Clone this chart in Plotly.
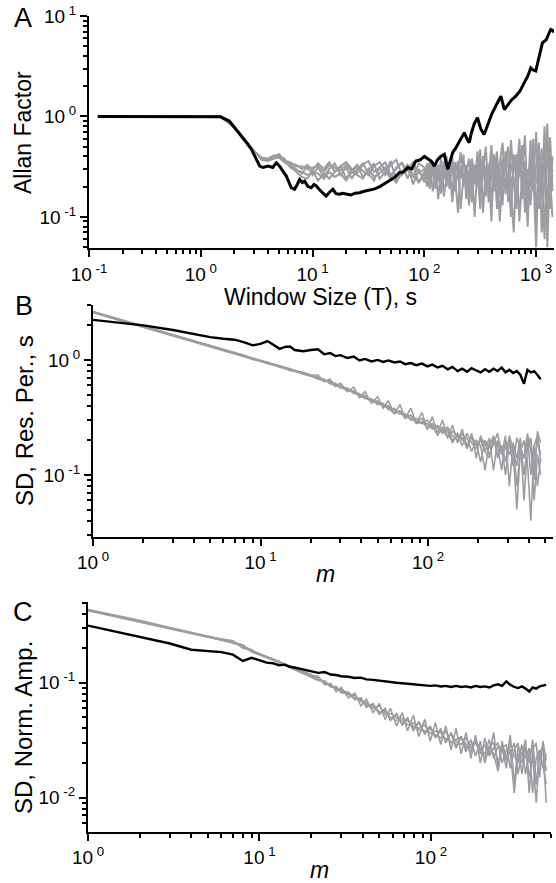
import plotly.graph_objects as go

# ---------------- Panel A data (Allan factor) ----------------
a_black_x = [0.12, 0.5, 1.0, 1.5, 1.8, 2.2, 2.5, 2.84, 3.1, 3.37, 3.6, 4.0, 4.4, 4.74, 5.07, 5.4, 5.82, 6.45, 6.9, 7.3,
             7.66, 8.1, 8.49, 9.1, 9.73, 10.3, 10.8, 11.6, 12.4, 13.2, 14.1, 15.2, 16.2, 17.4, 18.6, 20, 22, 24, 26.3, 29,
             32.3, 36, 40, 45.5, 50, 55, 59.8, 65, 71, 77, 84, 92, 100, 107, 115, 123, 131, 140, 151, 162,
             170, 179, 190, 203, 215, 228, 240, 252, 265, 280, 299, 320, 343, 370, 400, 440, 484, 520, 555, 600,
             658, 720, 781, 840, 896, 940, 993, 1060, 1138, 1230, 1300, 1350, 1400, 1445]
a_black_y = [1.0, 1.0, 1.0, 0.99, 0.9, 0.69, 0.57, 0.47, 0.39, 0.32, 0.31, 0.32, 0.31, 0.346, 0.32, 0.29, 0.255, 0.195, 0.188, 0.21,
             0.236, 0.22, 0.227, 0.2, 0.195, 0.21, 0.203, 0.185, 0.174, 0.161, 0.175, 0.188, 0.17, 0.168, 0.172, 0.17, 0.165, 0.172, 0.174, 0.18,
             0.185, 0.19, 0.2, 0.219, 0.23, 0.25, 0.275, 0.28, 0.31, 0.3, 0.359, 0.37, 0.40, 0.38, 0.36, 0.32, 0.37, 0.40, 0.419, 0.297,
             0.36, 0.435, 0.48, 0.55, 0.6, 0.69, 0.6, 0.547, 0.7, 0.85, 0.97, 0.75, 0.66, 0.82, 1.05, 1.3, 1.59, 1.17, 1.3, 1.45,
             1.59, 1.8, 2.16, 2.5, 3.05, 2.9, 2.83, 3.8, 5.41, 5.8, 6.6, 7.34, 7.2, 6.9]

a_gray_x = [0.12, 1.5, 2.0, 2.5, 3.0, 3.5, 4.0, 4.5, 5.0, 5.6, 6.3, 7.1, 8.0, 9.0, 10, 11.2, 12.6, 14.1, 15.8, 17.8,
            20, 22.4, 25.1, 28.2, 31.6, 35.5, 39.8, 44.7, 50.1, 56.2, 63.1, 70.8, 79.4, 89.1, 100, 106, 112, 119, 126, 133,
            141, 150, 158, 168, 178, 188, 200, 211, 224, 237, 251, 266, 282, 299, 316, 335, 355, 376, 398, 422,
            447, 473, 501, 531, 562, 596, 631, 668, 708, 750, 794, 841, 891, 944, 1000, 1059, 1122, 1189, 1259, 1334, 1400]
a_gray_1 = [1.0, 1.0, 0.78, 0.58, 0.45, 0.38, 0.37, 0.39, 0.41,
            0.37, 0.33, 0.30, 0.27, 0.32, 0.26, 0.31, 0.25, 0.30, 0.34, 0.26, 0.31, 0.24, 0.30, 0.34, 0.27, 0.23, 0.31, 0.35, 0.26, 0.30, 0.35, 0.24, 0.32, 0.22,
            0.26, 0.34, 0.22, 0.30, 0.19, 0.33, 0.25, 0.36, 0.20, 0.29, 0.40, 0.18, 0.31, 0.24, 0.42, 0.15, 0.28, 0.37, 0.21, 0.45, 0.17, 0.30, 0.50, 0.14,
            0.26, 0.38, 0.12, 0.33, 0.55, 0.19, 0.28, 0.10, 0.42, 0.24, 0.60, 0.15, 0.33, 0.08, 0.48, 0.22, 0.70, 0.12, 0.35, 0.06, 0.50, 0.20, 0.30]
a_gray_2 = [1.0, 1.0, 0.78, 0.58, 0.45, 0.37, 0.36, 0.38, 0.39,
            0.35, 0.32, 0.28, 0.25, 0.24, 0.29, 0.23, 0.27, 0.24, 0.28, 0.32, 0.24, 0.29, 0.33, 0.25, 0.29, 0.34, 0.24, 0.28, 0.36, 0.23, 0.27, 0.33, 0.21, 0.30,
            0.22, 0.30, 0.35, 0.18, 0.27, 0.23, 0.38, 0.16, 0.26, 0.33, 0.14, 0.28, 0.36, 0.12, 0.25, 0.33, 0.19, 0.28, 0.10, 0.35, 0.22, 0.40, 0.16, 0.30,
            0.09, 0.42, 0.20, 0.26, 0.13, 0.45, 0.32, 0.18, 0.07, 0.38, 0.25, 0.52, 0.11, 0.30, 0.20, 0.60, 0.09, 0.40, 0.15, 0.80, 0.05, 0.36, 0.25]
a_gray_3 = [1.0, 1.0, 0.78, 0.58, 0.45, 0.38, 0.38, 0.40, 0.42,
            0.36, 0.34, 0.33, 0.30, 0.33, 0.29, 0.34, 0.30, 0.35, 0.28, 0.32, 0.35, 0.30, 0.27, 0.33, 0.36, 0.28, 0.31, 0.26, 0.33, 0.37, 0.26, 0.30, 0.35, 0.27,
            0.30, 0.24, 0.28, 0.36, 0.21, 0.30, 0.17, 0.27, 0.40, 0.22, 0.18, 0.35, 0.27, 0.44, 0.20, 0.30, 0.13, 0.38, 0.26, 0.20, 0.47, 0.11, 0.32, 0.24,
            0.52, 0.18, 0.35, 0.09, 0.28, 0.40, 0.14, 0.58, 0.22, 0.12, 0.35, 0.27, 0.65, 0.10, 0.40, 0.18, 0.30, 0.55, 0.07, 0.26, 0.85, 0.12, 0.40]
a_gray_4 = [1.0, 1.0, 0.78, 0.58, 0.45, 0.39, 0.38, 0.41, 0.40,
            0.38, 0.31, 0.29, 0.28, 0.26, 0.28, 0.27, 0.24, 0.28, 0.25, 0.27, 0.23, 0.28, 0.26, 0.24, 0.30, 0.25, 0.27, 0.31, 0.25, 0.22, 0.28, 0.33, 0.26, 0.22,
            0.28, 0.20, 0.32, 0.26, 0.34, 0.15, 0.29, 0.24, 0.31, 0.19, 0.36, 0.26, 0.11, 0.32, 0.23, 0.28, 0.38, 0.17, 0.33, 0.27, 0.12, 0.40, 0.25, 0.19,
            0.36, 0.28, 0.45, 0.16, 0.23, 0.35, 0.50, 0.20, 0.30, 0.42, 0.09, 0.26, 0.36, 0.16, 0.58, 0.28, 0.05, 0.45, 0.22, 0.34, 0.12, 0.62, 0.18]
a_gray_5 = [1.0, 1.0, 0.78, 0.58, 0.45, 0.38, 0.37, 0.38, 0.42,
            0.36, 0.35, 0.32, 0.32, 0.30, 0.31, 0.32, 0.28, 0.33, 0.31, 0.29, 0.33, 0.28, 0.32, 0.29, 0.26, 0.32, 0.35, 0.29, 0.24, 0.31, 0.34, 0.29, 0.25, 0.34,
            0.31, 0.27, 0.19, 0.33, 0.28, 0.25, 0.20, 0.34, 0.29, 0.24, 0.31, 0.21, 0.26, 0.30, 0.35, 0.22, 0.26, 0.14, 0.31, 0.23, 0.36, 0.28, 0.21, 0.34,
            0.16, 0.25, 0.31, 0.22, 0.38, 0.17, 0.27, 0.34, 0.24, 0.16, 0.45, 0.33, 0.21, 0.28, 0.13, 0.38, 0.24, 0.19, 0.48, 0.30, 0.16, 0.24, 0.10]

# ---------------- Panels B and C share the m grid ----------------
m_vals = [1, 2, 3, 4, 5, 6, 7, 8, 9, 10, 11, 12, 13, 14, 15, 16, 18, 20,
          22, 24, 26, 28, 30, 33, 36, 39, 42, 46, 50, 54, 58, 63, 68, 73, 79, 85, 92, 99,
          106, 114, 122, 131, 140, 150, 160, 171, 182, 194, 206, 219, 232, 246,
          260, 275, 290, 306, 322, 339, 356, 374, 392, 411, 430, 450, 470]

# Panel B: SD of residual periods
b_black = [2.23, 2.0, 1.82, 1.68, 1.58, 1.53, 1.50, 1.42, 1.34, 1.38, 1.46, 1.35, 1.25, 1.30, 1.31, 1.22, 1.19, 1.22,
           1.24, 1.12, 1.15, 1.08, 1.10, 1.04, 1.07, 0.99, 1.02, 0.97, 1.00, 0.96, 0.99, 0.95, 0.97, 0.92, 0.94, 0.90, 0.93, 0.88,
           0.91, 0.86, 0.89, 0.83, 0.87, 0.80, 0.84, 0.79, 0.85, 0.81, 0.78, 0.83, 0.79, 0.84,
           0.80, 0.86, 0.78, 0.82, 0.77, 0.80, 0.74, 0.62, 0.82, 0.78, 0.80, 0.74, 0.68]
b_gray_1 = [2.62, 1.95, 1.64, 1.45, 1.32, 1.23, 1.15, 1.09, 1.03, 0.99, 0.95, 0.92, 0.88, 0.86, 0.83, 0.81, 0.77, 0.74,
            0.74, 0.65, 0.68, 0.59, 0.63, 0.53, 0.58, 0.47, 0.53, 0.42, 0.48, 0.38, 0.44, 0.34, 0.41, 0.31, 0.38, 0.28, 0.35, 0.25,
            0.32, 0.23, 0.30, 0.21, 0.27, 0.19, 0.25, 0.17, 0.23, 0.14, 0.22, 0.16, 0.21, 0.11,
            0.20, 0.15, 0.22, 0.08, 0.19, 0.14, 0.21, 0.06, 0.18, 0.20, 0.11, 0.21, 0.15]
b_gray_2 = [2.58, 1.93, 1.62, 1.44, 1.31, 1.21, 1.14, 1.07, 1.02, 0.97, 0.94, 0.90, 0.87, 0.84, 0.82, 0.79, 0.76, 0.72,
            0.69, 0.68, 0.62, 0.63, 0.57, 0.57, 0.52, 0.51, 0.46, 0.46, 0.42, 0.42, 0.37, 0.38, 0.34, 0.34, 0.30, 0.31, 0.28, 0.30,
            0.26, 0.27, 0.24, 0.26, 0.22, 0.20, 0.23, 0.18, 0.21, 0.19, 0.13, 0.20, 0.17, 0.22,
            0.14, 0.18, 0.10, 0.19, 0.16, 0.05, 0.17, 0.14, 0.21, 0.10, 0.18, 0.08, 0.14]
b_gray_3 = [2.64, 1.96, 1.65, 1.46, 1.33, 1.24, 1.16, 1.10, 1.04, 0.98, 0.96, 0.91, 0.89, 0.85, 0.84, 0.80, 0.78, 0.73,
            0.70, 0.65, 0.66, 0.60, 0.58, 0.56, 0.51, 0.50, 0.48, 0.43, 0.44, 0.39, 0.40, 0.35, 0.36, 0.31, 0.33, 0.28, 0.29, 0.26,
            0.27, 0.22, 0.26, 0.24, 0.19, 0.23, 0.20, 0.21, 0.16, 0.20, 0.18, 0.11, 0.19, 0.21,
            0.15, 0.18, 0.13, 0.22, 0.17, 0.12, 0.19, 0.10, 0.18, 0.21, 0.06, 0.15, 0.10]
b_gray_4 = [2.60, 1.94, 1.63, 1.44, 1.31, 1.22, 1.13, 1.08, 1.01, 0.98, 0.93, 0.91, 0.87, 0.85, 0.81, 0.80, 0.75, 0.73,
            0.71, 0.67, 0.63, 0.62, 0.58, 0.54, 0.54, 0.48, 0.47, 0.45, 0.41, 0.41, 0.38, 0.34, 0.36, 0.32, 0.31, 0.29, 0.31, 0.25,
            0.28, 0.26, 0.23, 0.25, 0.20, 0.22, 0.21, 0.17, 0.22, 0.18, 0.20, 0.16, 0.14, 0.21,
            0.18, 0.11, 0.20, 0.15, 0.19, 0.08, 0.16, 0.20, 0.13, 0.04, 0.18, 0.22, 0.13]
b_gray_5 = [2.61, 1.94, 1.64, 1.45, 1.32, 1.23, 1.15, 1.08, 1.03, 0.99, 0.95, 0.91, 0.88, 0.86, 0.82, 0.81, 0.77, 0.74,
            0.68, 0.67, 0.64, 0.59, 0.61, 0.55, 0.53, 0.50, 0.49, 0.44, 0.43, 0.40, 0.39, 0.37, 0.34, 0.33, 0.33, 0.29, 0.28, 0.28,
            0.25, 0.26, 0.25, 0.21, 0.24, 0.22, 0.18, 0.23, 0.19, 0.17, 0.21, 0.19, 0.15, 0.19,
            0.23, 0.16, 0.17, 0.20, 0.12, 0.21, 0.17, 0.14, 0.23, 0.16, 0.09, 0.24, 0.19]

# Panel C: SD of normalized amplitudes
c_black = [0.315, 0.25, 0.22, 0.194, 0.19, 0.185, 0.176, 0.155, 0.165, 0.158, 0.150, 0.148, 0.142, 0.144, 0.138, 0.136, 0.130, 0.126,
           0.122, 0.124, 0.118, 0.117, 0.114, 0.113, 0.110, 0.111, 0.107, 0.106, 0.104, 0.103, 0.101, 0.100, 0.099, 0.098, 0.097, 0.096, 0.095, 0.094,
           0.095, 0.093, 0.094, 0.092, 0.094, 0.092, 0.093, 0.091, 0.094, 0.092, 0.093, 0.091, 0.095, 0.097,
           0.094, 0.103, 0.096, 0.092, 0.090, 0.093, 0.089, 0.084, 0.091, 0.089, 0.093, 0.095, 0.096]
c_gray_1 = [0.43, 0.345, 0.30, 0.272, 0.253, 0.238, 0.225, 0.207, 0.19, 0.178, 0.168, 0.160, 0.152, 0.145, 0.139, 0.133, 0.124, 0.115,
            0.114, 0.096, 0.099, 0.084, 0.091, 0.074, 0.081, 0.063, 0.072, 0.055, 0.066, 0.048, 0.060, 0.042, 0.055, 0.038, 0.052, 0.034, 0.048, 0.031,
            0.045, 0.029, 0.042, 0.026, 0.040, 0.024, 0.037, 0.022, 0.035, 0.020, 0.033, 0.024, 0.037, 0.018,
            0.031, 0.021, 0.035, 0.013, 0.028, 0.023, 0.032, 0.011, 0.026, 0.030, 0.015, 0.031, 0.021]
c_gray_2 = [0.425, 0.34, 0.298, 0.27, 0.25, 0.235, 0.22, 0.21, 0.188, 0.175, 0.165, 0.158, 0.150, 0.142, 0.136, 0.130, 0.120, 0.112,
            0.105, 0.104, 0.092, 0.093, 0.082, 0.083, 0.072, 0.073, 0.062, 0.065, 0.054, 0.058, 0.048, 0.053, 0.043, 0.049, 0.040, 0.045, 0.036, 0.042,
            0.033, 0.040, 0.030, 0.037, 0.028, 0.034, 0.025, 0.032, 0.023, 0.031, 0.020, 0.028, 0.024, 0.017,
            0.029, 0.021, 0.026, 0.011, 0.024, 0.020, 0.028, 0.015, 0.023, 0.009, 0.025, 0.019, 0.013]
c_gray_3 = [0.435, 0.35, 0.303, 0.275, 0.255, 0.24, 0.232, 0.20, 0.192, 0.18, 0.17, 0.162, 0.155, 0.147, 0.141, 0.135, 0.127, 0.118,
            0.110, 0.100, 0.094, 0.091, 0.084, 0.079, 0.077, 0.069, 0.067, 0.060, 0.063, 0.053, 0.054, 0.050, 0.046, 0.047, 0.042, 0.040, 0.043, 0.036,
            0.038, 0.037, 0.032, 0.036, 0.031, 0.029, 0.033, 0.027, 0.030, 0.026, 0.024, 0.032, 0.022, 0.028,
            0.027, 0.018, 0.031, 0.023, 0.020, 0.029, 0.016, 0.025, 0.027, 0.013, 0.024, 0.028, 0.017]
c_gray_4 = [0.43, 0.344, 0.299, 0.271, 0.252, 0.236, 0.225, 0.215, 0.185, 0.176, 0.166, 0.161, 0.149, 0.146, 0.137, 0.134, 0.122, 0.117,
            0.107, 0.102, 0.096, 0.088, 0.087, 0.081, 0.073, 0.071, 0.064, 0.063, 0.056, 0.056, 0.050, 0.047, 0.049, 0.043, 0.045, 0.039, 0.038, 0.040,
            0.035, 0.033, 0.038, 0.030, 0.032, 0.034, 0.027, 0.029, 0.031, 0.024, 0.029, 0.023, 0.027, 0.030,
            0.020, 0.026, 0.024, 0.030, 0.016, 0.025, 0.022, 0.027, 0.011, 0.022, 0.026, 0.018, 0.024]
c_gray_5 = [0.432, 0.346, 0.301, 0.273, 0.254, 0.239, 0.23, 0.208, 0.194, 0.177, 0.169, 0.157, 0.154, 0.143, 0.140, 0.131, 0.126, 0.113,
            0.109, 0.101, 0.093, 0.092, 0.082, 0.081, 0.071, 0.074, 0.061, 0.066, 0.053, 0.060, 0.047, 0.054, 0.043, 0.050, 0.038, 0.046, 0.036, 0.041,
            0.034, 0.038, 0.031, 0.036, 0.027, 0.034, 0.029, 0.025, 0.031, 0.027, 0.022, 0.028, 0.030, 0.020,
            0.027, 0.029, 0.018, 0.026, 0.030, 0.016, 0.027, 0.020, 0.032, 0.013, 0.024, 0.028, 0.009]

# Tick labels
a_x_ticks = [0.1, 1, 10, 100, 1000]
a_x_text = ["10<sup> -1</sup>", "10<sup> 0</sup>", "10<sup> 1</sup>", "10<sup> 2</sup>", "10<sup> 3</sup>"]
a_y_ticks = [0.1, 1, 10]
a_y_text = ["10<sup> -1</sup>", "10<sup> 0</sup>", "10<sup> 1</sup>"]
m_ticks = [1, 10, 100]
m_text = ["10<sup> 0</sup>", "10<sup> 1</sup>", "10<sup> 2</sup>"]
b_y_ticks = [0.1, 1]
b_y_text = ["10<sup> -1</sup>", "10<sup> 0</sup>"]
c_y_ticks = [0.01, 0.1]
c_y_text = ["10<sup> -2</sup>", "10<sup> -1</sup>"]

# ---------------- figure ----------------
W, H = 556, 883
GRAY = "#9c9da1"
FONT = "Arial, 'Liberation Sans', Helvetica, sans-serif"


def fx(p):
    return p / W


def fy(p):
    return 1 - p / H


def minors(lo, hi):
    vals = []
    for d in range(lo, hi + 1):
        for k in range(2, 10):
            vals.append(k * 10.0 ** d)
    return vals


fig = go.Figure()

for g in [a_gray_1, a_gray_2, a_gray_3, a_gray_4, a_gray_5]:
    fig.add_trace(go.Scatter(x=a_gray_x, y=g, mode="lines", line=dict(color=GRAY, width=2),
                             xaxis="x", yaxis="y", showlegend=False, hoverinfo="skip"))
fig.add_trace(go.Scatter(x=a_black_x, y=a_black_y, mode="lines", line=dict(color="black", width=3),
                         xaxis="x", yaxis="y", showlegend=False))

for g in [b_gray_1, b_gray_2, b_gray_3, b_gray_4, b_gray_5]:
    fig.add_trace(go.Scatter(x=m_vals, y=g, mode="lines", line=dict(color=GRAY, width=1.6),
                             xaxis="x2", yaxis="y2", showlegend=False, hoverinfo="skip"))
fig.add_trace(go.Scatter(x=m_vals, y=b_black, mode="lines", line=dict(color="black", width=2.4),
                         xaxis="x2", yaxis="y2", showlegend=False))

for g in [c_gray_1, c_gray_2, c_gray_3, c_gray_4, c_gray_5]:
    fig.add_trace(go.Scatter(x=m_vals, y=g, mode="lines", line=dict(color=GRAY, width=1.6),
                             xaxis="x3", yaxis="y3", showlegend=False, hoverinfo="skip"))
fig.add_trace(go.Scatter(x=m_vals, y=c_black, mode="lines", line=dict(color="black", width=2.4),
                         xaxis="x3", yaxis="y3", showlegend=False))

tickfont = dict(family=FONT, size=19, color="black")


def axis(domain, rng, tickvals, ticktext, mlo, mhi, anchor, standoff=0):
    return dict(type="log", domain=domain, range=rng, anchor=anchor, automargin=False,
                showline=True, linecolor="black", linewidth=2, mirror=False,
                showgrid=False, zeroline=False,
                ticks="outside", ticklen=7, tickwidth=2, tickcolor="black",
                tickmode="array", tickvals=tickvals, ticktext=ticktext,
                tickfont=tickfont, ticklabelstandoff=standoff,
                minor=dict(tickmode="array", tickvals=minors(mlo, mhi), ticks="outside",
                           ticklen=4, tickwidth=1.5, tickcolor="black", showgrid=False))


fig.update_layout(
    template="none",
    width=W, height=H, margin=dict(l=0, r=0, t=0, b=0, pad=0, autoexpand=False),
    paper_bgcolor="white", plot_bgcolor="white",
    font=dict(family=FONT, color="black"),
    xaxis=axis([fx(89), fx(554)], [-1, 3.16], a_x_ticks, a_x_text, -1, 3, "y", 1),
    yaxis=axis([fy(248), fy(16)], [-1.31, 1.0], a_y_ticks, a_y_text, -2, 0, "x"),
    xaxis2=axis([fx(93), fx(553)], [0, 2.746], m_ticks, m_text, 0, 2, "y2"),
    yaxis2=axis([fy(537), fy(305)], [-1.54, 0.478], b_y_ticks, b_y_text, -2, 0, "x2"),
    xaxis3=axis([fx(88), fx(551)], [0, 2.70], m_ticks, m_text, 0, 2, "y3"),
    yaxis3=axis([fy(832), fy(602)], [-2.3, -0.296], c_y_ticks, c_y_text, -3, -1, "x3"),
)

ann = [
    dict(text="A", x=fx(23), y=fy(18), size=27, angle=0, italic=False),
    dict(text="B", x=fx(24), y=fy(306), size=27, angle=0, italic=False),
    dict(text="C", x=fx(23), y=fy(612), size=27, angle=0, italic=False),
    dict(text="Allan Factor", x=fx(23), y=fy(133), size=23, angle=-90, italic=False),
    dict(text="Window Size (T), s", x=fx(320), y=fy(297), size=23, angle=0, italic=False),
    dict(text="SD, Res. Per., s", x=fx(24), y=fy(421), size=24, angle=-90, italic=False),
    dict(text="m", x=fx(325), y=fy(574), size=23, angle=0, italic=True),
    dict(text="SD, Norm. Amp.", x=fx(23), y=fy(728), size=24, angle=-90, italic=False),
    dict(text="m", x=fx(319), y=fy(870), size=23, angle=0, italic=True),
]
for a in ann:
    txt = "<i>%s</i>" % a["text"] if a["italic"] else a["text"]
    fig.add_annotation(text=txt, xref="paper", yref="paper", x=a["x"], y=a["y"],
                       xanchor="center", yanchor="middle", showarrow=False, textangle=a["angle"],
                       font=dict(family=FONT, size=a["size"], color="black"))

fig.write_html("out.html", config={"displayModeBar": False},
               post_script="document.body.style.margin='0px';document.body.style.overflow='hidden';")
